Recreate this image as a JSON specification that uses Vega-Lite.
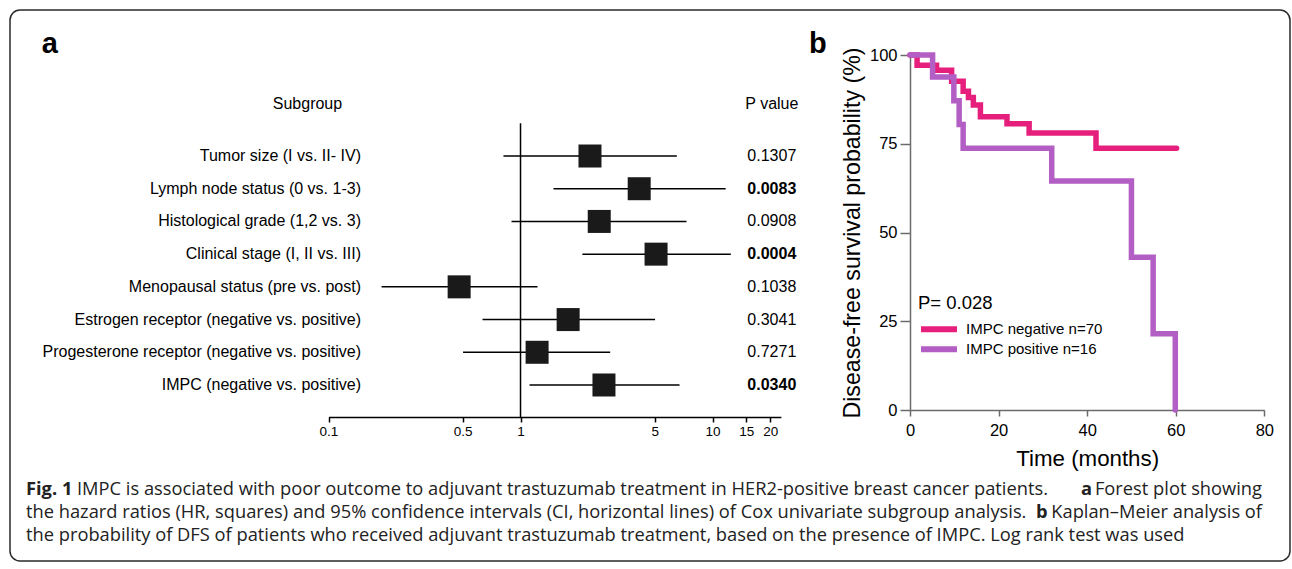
{
  "$schema": "https://vega.github.io/schema/vega-lite/v6.json",
  "width": 1280,
  "height": 551,
  "autosize": {"type": "none"},
  "padding": {"left": 10, "top": 10, "right": 2, "bottom": 8},
  "background": "white",
  "config": {
    "view": {"stroke": "#2a2a2a", "strokeWidth": 1.5, "cornerRadius": 10},
    "font": "Liberation Sans",
    "axis": {"grid": false, "labelFont": "Liberation Sans", "titleFont": "Liberation Sans", "labelColor": "black", "titleColor": "black", "titleFontWeight": "normal", "labelFlush": false, "labelOverlap": false, "labelBound": false},
    "legend": {"labelFont": "Liberation Sans", "titleFont": "Liberation Sans"}
  },
  "resolve": {
    "scale": {"x": "independent", "y": "independent", "color": "independent"},
    "axis": {"x": "independent", "y": "independent"}
  },
  "layer": [
    {
      "data": {"values": [
        {"row": 1, "subgroup": "Tumor size (I vs. II- IV)", "lo": 0.815, "hr": 2.30, "hi": 6.52, "p": 0.1307},
        {"row": 2, "subgroup": "Lymph node status (0 vs. 1-3)", "lo": 1.485, "hr": 4.15, "hi": 11.7, "p": 0.0083},
        {"row": 3, "subgroup": "Histological grade (1,2 vs. 3)", "lo": 0.898, "hr": 2.57, "hi": 7.32, "p": 0.0908},
        {"row": 4, "subgroup": "Clinical stage (I, II vs. III)", "lo": 2.10, "hr": 5.08, "hi": 12.45, "p": 0.0004},
        {"row": 5, "subgroup": "Menopausal status (pre vs. post)", "lo": 0.189, "hr": 0.479, "hi": 1.226, "p": 0.1038},
        {"row": 6, "subgroup": "Estrogen receptor (negative vs. positive)", "lo": 0.634, "hr": 1.77, "hi": 5.02, "p": 0.3041},
        {"row": 7, "subgroup": "Progesterone receptor (negative vs. positive)", "lo": 0.502, "hr": 1.22, "hi": 2.93, "p": 0.7271},
        {"row": 8, "subgroup": "IMPC  (negative vs. positive)", "lo": 1.114, "hr": 2.72, "hi": 6.73, "p": 0.0340}
      ]},
      "layer": [
        {
          "mark": {"type": "rule", "color": "black", "strokeWidth": 1.5},
          "encoding": {
            "x": {"field": "lo", "type": "quantitative", "title": null,
                  "scale": {"type": "log", "domain": [0.1, 22.7], "range": [318.5, 770.9], "nice": false, "zero": false},
                  "axis": {"orient": "bottom", "offset": -144, "values": [0.1, 0.5, 1, 5, 10, 15, 20], "format": "~g", "title": null,
                           "domainColor": "black", "domainWidth": 1.5, "tickColor": "black", "tickWidth": 1.5, "tickSize": 5,
                           "labelFontSize": 13.5, "labelPadding": 2}},
            "x2": {"field": "hi"},
            "y": {"field": "row", "type": "quantitative", "title": null,
                  "scale": {"domain": [0, 9], "range": [113.3, 407.7], "nice": false, "zero": false}, "axis": null}
          }
        },
        {
          "mark": {"type": "square", "size": 529, "color": "#1a1a1a", "opacity": 1, "filled": true},
          "encoding": {
            "x": {"field": "hr", "type": "quantitative", "title": null},
            "y": {"field": "row", "type": "quantitative", "title": null, "axis": null}
          }
        },
        {
          "data": {"values": [{"hr": 1}]},
          "mark": {"type": "rule", "color": "black", "strokeWidth": 1.5},
          "encoding": {
            "x": {"field": "hr", "type": "quantitative", "title": null},
            "y": {"datum": 0, "type": "quantitative", "title": null, "axis": null},
            "y2": {"datum": 9}
          }
        },
        {
          "mark": {"type": "text", "align": "right", "baseline": "middle", "fontSize": 16, "color": "black"},
          "encoding": {
            "x": {"datum": 0.1476, "type": "quantitative", "title": null},
            "y": {"field": "row", "type": "quantitative", "title": null, "axis": null},
            "text": {"field": "subgroup"}
          }
        },
        {
          "transform": [{"filter": "datum.p >= 0.05"}],
          "mark": {"type": "text", "align": "right", "baseline": "middle", "fontSize": 16, "color": "black"},
          "encoding": {
            "x": {"datum": 27.3, "type": "quantitative", "title": null},
            "y": {"field": "row", "type": "quantitative", "title": null, "axis": null},
            "text": {"field": "p", "type": "quantitative", "format": ".4f"}
          }
        },
        {
          "transform": [{"filter": "datum.p < 0.05"}],
          "mark": {"type": "text", "align": "right", "baseline": "middle", "fontSize": 16, "fontWeight": "bold", "color": "black"},
          "encoding": {
            "x": {"datum": 27.3, "type": "quantitative", "title": null},
            "y": {"field": "row", "type": "quantitative", "title": null, "axis": null},
            "text": {"field": "p", "type": "quantitative", "format": ".4f"}
          }
        },
        {
          "data": {"values": [{"h": "Subgroup"}]},
          "mark": {"type": "text", "align": "center", "baseline": "middle", "fontSize": 16, "color": "black"},
          "encoding": {
            "x": {"datum": 0.0777, "type": "quantitative", "title": null},
            "y": {"datum": -0.6, "type": "quantitative", "title": null, "axis": null},
            "text": {"field": "h"}
          }
        },
        {
          "data": {"values": [{"h": "P value"}]},
          "mark": {"type": "text", "align": "right", "baseline": "middle", "fontSize": 16, "color": "black"},
          "encoding": {
            "x": {"datum": 28.0, "type": "quantitative", "title": null},
            "y": {"datum": -0.6, "type": "quantitative", "title": null, "axis": null},
            "text": {"field": "h"}
          }
        },
        {
          "data": {"values": [{"h": "a"}]},
          "mark": {"type": "text", "align": "left", "baseline": "alphabetic", "fontSize": 29, "fontWeight": "bold", "color": "black"},
          "encoding": {
            "x": {"datum": 0.003208, "type": "quantitative", "title": null},
            "y": {"datum": -2.149, "type": "quantitative", "title": null, "axis": null},
            "text": {"field": "h"}
          }
        }
      ]
    },
    {
      "layer": [
        {
          "data": {"values": [
            {"group": "IMPC negative n=70", "month": 0, "surv": 100},
            {"group": "IMPC negative n=70", "month": 1.6, "surv": 97.1},
            {"group": "IMPC negative n=70", "month": 6.0, "surv": 95.7},
            {"group": "IMPC negative n=70", "month": 9.4, "surv": 92.6},
            {"group": "IMPC negative n=70", "month": 12.0, "surv": 89.8},
            {"group": "IMPC negative n=70", "month": 13.2, "surv": 88.0},
            {"group": "IMPC negative n=70", "month": 14.3, "surv": 85.9},
            {"group": "IMPC negative n=70", "month": 15.9, "surv": 82.6},
            {"group": "IMPC negative n=70", "month": 21.9, "surv": 80.6},
            {"group": "IMPC negative n=70", "month": 26.9, "surv": 78.0},
            {"group": "IMPC negative n=70", "month": 42.0, "surv": 73.7},
            {"group": "IMPC negative n=70", "month": 60.2, "surv": 73.7},
            {"group": "IMPC positive n=16", "month": 0, "surv": 100},
            {"group": "IMPC positive n=16", "month": 5.1, "surv": 93.8},
            {"group": "IMPC positive n=16", "month": 9.9, "surv": 87.1},
            {"group": "IMPC positive n=16", "month": 11.1, "surv": 80.4},
            {"group": "IMPC positive n=16", "month": 12.0, "surv": 73.7},
            {"group": "IMPC positive n=16", "month": 32.0, "surv": 64.5},
            {"group": "IMPC positive n=16", "month": 50.0, "surv": 43.0},
            {"group": "IMPC positive n=16", "month": 54.9, "surv": 21.5},
            {"group": "IMPC positive n=16", "month": 59.9, "surv": 0}
          ]},
          "mark": {"type": "line", "interpolate": "step-after", "strokeWidth": 5.5, "strokeCap": "round", "strokeJoin": "miter"},
          "encoding": {
            "x": {"field": "month", "type": "quantitative", "title": "Time (months)",
                  "scale": {"domain": [0, 80], "range": [900, 1254.3], "nice": false, "zero": false},
                  "axis": {"orient": "bottom", "offset": -151, "values": [0, 20, 40, 60, 80], "title": "Time (months)",
                           "titleFontSize": 22.3, "titlePadding": 8.5, "domainColor": "#6b6b6b", "domainWidth": 1.5,
                           "tickColor": "#6b6b6b", "tickWidth": 1.5, "tickSize": 6, "labelFontSize": 16.5, "labelPadding": 6}},
            "y": {"field": "surv", "type": "quantitative", "title": "Disease-free survival probability (%)",
                  "scale": {"domain": [0, 100], "range": [400, 45], "nice": false, "zero": false},
                  "axis": {"orient": "left", "offset": -900, "values": [0, 25, 50, 75, 100], "title": "Disease-free survival probability (%)",
                           "titleFontSize": 23.2, "titlePadding": 5, "domainColor": "#6b6b6b", "domainWidth": 1.5,
                           "tickColor": "#6b6b6b", "tickWidth": 1.5, "tickSize": 10, "labelFontSize": 16.5, "labelPadding": 3}},
            "color": {"field": "group", "type": "nominal",
                      "scale": {"domain": ["IMPC negative n=70", "IMPC positive n=16"], "range": ["#e61f7d", "#b35ec4"]},
                      "legend": {"orient": "none", "legendX": 908, "legendY": 284, "direction": "vertical", "title": "P= 0.028",
                                 "titleFontSize": 18.5, "titleFontWeight": "normal", "titleColor": "black", "titlePadding": 8,
                                 "symbolType": "stroke", "symbolSize": 1296, "symbolStrokeWidth": 6, "clipHeight": 17.5,
                                 "rowPadding": 2, "labelFontSize": 15, "labelOffset": 6, "labelColor": "black", "padding": 0}}
          }
        },
        {
          "data": {"values": [{"h": "b"}]},
          "mark": {"type": "text", "align": "left", "baseline": "alphabetic", "fontSize": 29, "fontWeight": "bold", "color": "black"},
          "encoding": {
            "x": {"datum": -22.8, "type": "quantitative", "title": "Time (months)"},
            "y": {"datum": 100.48, "type": "quantitative", "title": "Disease-free survival probability (%)"},
            "text": {"field": "h"}
          }
        }
      ]
    },
    {
      "data": {"values": [
        {"seg": "fig", "text": "Fig. 1"},
        {"seg": "body1", "text": "IMPC is associated with poor outcome to adjuvant trastuzumab treatment in HER2-positive breast cancer patients."},
        {"seg": "a", "text": "a"},
        {"seg": "end1", "text": "Forest plot showing"},
        {"seg": "body2", "text": "the hazard ratios (HR, squares) and 95% confidence intervals (CI, horizontal lines) of Cox univariate subgroup analysis."},
        {"seg": "b", "text": "b"},
        {"seg": "end2", "text": "Kaplan–Meier analysis of"},
        {"seg": "body3", "text": "the probability of DFS of patients who received adjuvant trastuzumab treatment, based on the presence of IMPC. Log rank test was used"}
      ]},
      "layer": [
        {
          "transform": [{"filter": "datum.seg == 'fig'"}],
          "mark": {"type": "text", "font": "Open Sans", "fontSize": 18.3, "fontWeight": "bold", "align": "left", "baseline": "middle", "color": "#222"},
          "encoding": {
            "x": {"datum": 0, "type": "quantitative", "scale": {"domain": [0, 1236], "range": [16, 1252], "nice": false, "zero": false}, "axis": null},
            "y": {"datum": 1, "type": "quantitative", "scale": {"domain": [1, 3], "range": [480, 526], "nice": false, "zero": false}, "axis": null},
            "text": {"field": "text"}
          }
        },
        {
          "transform": [{"filter": "datum.seg == 'body1'"}],
          "mark": {"type": "text", "font": "Open Sans", "fontSize": 18.3, "align": "left", "baseline": "middle", "color": "#222"},
          "encoding": {
            "x": {"datum": 51, "type": "quantitative", "axis": null},
            "y": {"datum": 1, "type": "quantitative", "axis": null},
            "text": {"field": "text"}
          }
        },
        {
          "transform": [{"filter": "datum.seg == 'a'"}],
          "mark": {"type": "text", "font": "Open Sans", "fontSize": 18.3, "fontWeight": "bold", "align": "left", "baseline": "middle", "color": "#222"},
          "encoding": {
            "x": {"datum": 1055, "type": "quantitative", "axis": null},
            "y": {"datum": 1, "type": "quantitative", "axis": null},
            "text": {"field": "text"}
          }
        },
        {
          "transform": [{"filter": "datum.seg == 'end1'"}],
          "mark": {"type": "text", "font": "Open Sans", "fontSize": 18.3, "align": "right", "baseline": "middle", "color": "#222"},
          "encoding": {
            "x": {"datum": 1236, "type": "quantitative", "axis": null},
            "y": {"datum": 1, "type": "quantitative", "axis": null},
            "text": {"field": "text"}
          }
        },
        {
          "transform": [{"filter": "datum.seg == 'body2'"}],
          "mark": {"type": "text", "font": "Open Sans", "fontSize": 18.3, "align": "left", "baseline": "middle", "color": "#222"},
          "encoding": {
            "x": {"datum": 0, "type": "quantitative", "axis": null},
            "y": {"datum": 2, "type": "quantitative", "axis": null},
            "text": {"field": "text"}
          }
        },
        {
          "transform": [{"filter": "datum.seg == 'b'"}],
          "mark": {"type": "text", "font": "Open Sans", "fontSize": 18.3, "fontWeight": "bold", "align": "left", "baseline": "middle", "color": "#222"},
          "encoding": {
            "x": {"datum": 1010, "type": "quantitative", "axis": null},
            "y": {"datum": 2, "type": "quantitative", "axis": null},
            "text": {"field": "text"}
          }
        },
        {
          "transform": [{"filter": "datum.seg == 'end2'"}],
          "mark": {"type": "text", "font": "Open Sans", "fontSize": 18.3, "align": "right", "baseline": "middle", "color": "#222"},
          "encoding": {
            "x": {"datum": 1236, "type": "quantitative", "axis": null},
            "y": {"datum": 2, "type": "quantitative", "axis": null},
            "text": {"field": "text"}
          }
        },
        {
          "transform": [{"filter": "datum.seg == 'body3'"}],
          "mark": {"type": "text", "font": "Open Sans", "fontSize": 18.3, "align": "left", "baseline": "middle", "color": "#222"},
          "encoding": {
            "x": {"datum": 0, "type": "quantitative", "axis": null},
            "y": {"datum": 3, "type": "quantitative", "axis": null},
            "text": {"field": "text"}
          }
        }
      ]
    }
  ]
}
